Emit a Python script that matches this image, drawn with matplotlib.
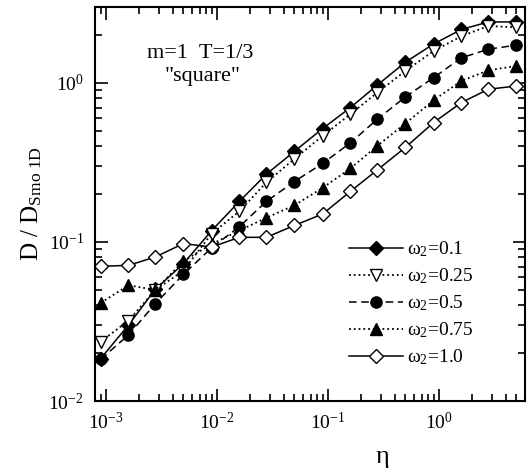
import matplotlib
matplotlib.use("Agg")
import matplotlib.pyplot as plt
from matplotlib.ticker import LogLocator, NullFormatter

plt.rcParams['font.family'] = ['Liberation Serif', 'DejaVu Serif']
plt.rcParams['mathtext.fontset'] = 'custom'
plt.rcParams['mathtext.rm'] = 'Liberation Serif'
plt.rcParams['mathtext.it'] = 'Liberation Serif:italic'
plt.rcParams['mathtext.default'] = 'rm'

eta = [0.0009, 0.0016, 0.0028, 0.005, 0.009, 0.016, 0.028, 0.05, 0.09,
       0.16, 0.28, 0.5, 0.9, 1.6, 2.8, 5.0]

w01 = [0.0185, 0.030, 0.0505, 0.073, 0.118, 0.180, 0.267, 0.371, 0.517,
       0.70, 0.97, 1.35, 1.76, 2.17, 2.42, 2.42]
w025 = [0.0236, 0.032, 0.050, 0.066, 0.113, 0.156, 0.237, 0.333, 0.465,
        0.637, 0.87, 1.19, 1.59, 1.97, 2.28, 2.24]
w05 = [0.0183, 0.026, 0.041, 0.0625, 0.092, 0.125, 0.180, 0.24, 0.312,
       0.42, 0.592, 0.817, 1.08, 1.44, 1.63, 1.73]
w075 = [0.0414, 0.0534, 0.050, 0.0758, 0.097, 0.118, 0.142, 0.170, 0.219,
        0.29, 0.403, 0.556, 0.779, 1.03, 1.2, 1.28]
w10 = [0.0703, 0.0713, 0.0805, 0.0977, 0.093, 0.107, 0.107, 0.127, 0.150,
       0.208, 0.284, 0.393, 0.564, 0.753, 0.913, 0.957]

labels = [r'$\omega_2$=0.1', r'$\omega_2$=0.25', r'$\omega_2$=0.5',
          r'$\omega_2$=0.75', r'$\omega_2$=1.0']

fig = plt.figure(figsize=(5.32, 4.74), dpi=100)
ax = fig.add_axes([0.1786, 0.154, 0.8084, 0.831])

ms = 7
ax.plot(eta, w01, '-', color='black', marker='D', ms=ms*0.95, mfc='black', lw=1.1, label=labels[0])
ax.plot(eta, w025, ':', color='black', marker='v', ms=ms*1.2, mfc='white', lw=1.3, label=labels[1])
ax.plot(eta, w05, '--', color='black', marker='o', ms=ms*1.15, mfc='black', lw=1.1, dashes=(5, 3), label=labels[2])
ax.plot(eta, w075, ':', color='black', marker='^', ms=ms*1.2, mfc='black', lw=1.3, label=labels[3])
ax.plot(eta, w10, '-', color='black', marker='D', ms=ms*0.95, mfc='white', lw=1.1, label=labels[4])

ax.set_xscale('log')
ax.set_yscale('log')
ax.set_xlim(8.0e-4, 6.0)
ax.set_ylim(0.01, 3.0)

ax.xaxis.set_major_locator(LogLocator(base=10, numticks=10))
ax.xaxis.set_minor_locator(LogLocator(base=10, subs=range(2, 10), numticks=20))
ax.xaxis.set_minor_formatter(NullFormatter())
ax.yaxis.set_minor_formatter(NullFormatter())

ax.tick_params(which='both', direction='in', top=True, right=True, labelsize=14, width=1.2)
ax.tick_params(which='major', length=9, pad=8)
ax.tick_params(which='minor', length=5)
for s in ax.spines.values():
    s.set_linewidth(1.5)

ax.set_ylabel(r'D / D$_{\mathrm{Smo\ 1D}}$', fontsize=18, labelpad=3)
ax.set_xlabel(r'$\eta$', fontsize=19)
ax.xaxis.set_label_coords(0.668, -0.12)

ax.text(0.12, 0.87, 'm=1  T=1/3', transform=ax.transAxes, fontsize=16, ha='left')
ax.text(0.163, 0.812, '"square"', transform=ax.transAxes, fontsize=16, ha='left')

leg = ax.legend(loc='upper left', bbox_to_anchor=(0.572, 0.43), borderaxespad=0.0,
                frameon=False, fontsize=14, handlelength=2.8, labelspacing=0.38,
                handletextpad=0.2, numpoints=1)

fig.savefig('out.png', dpi=100)
